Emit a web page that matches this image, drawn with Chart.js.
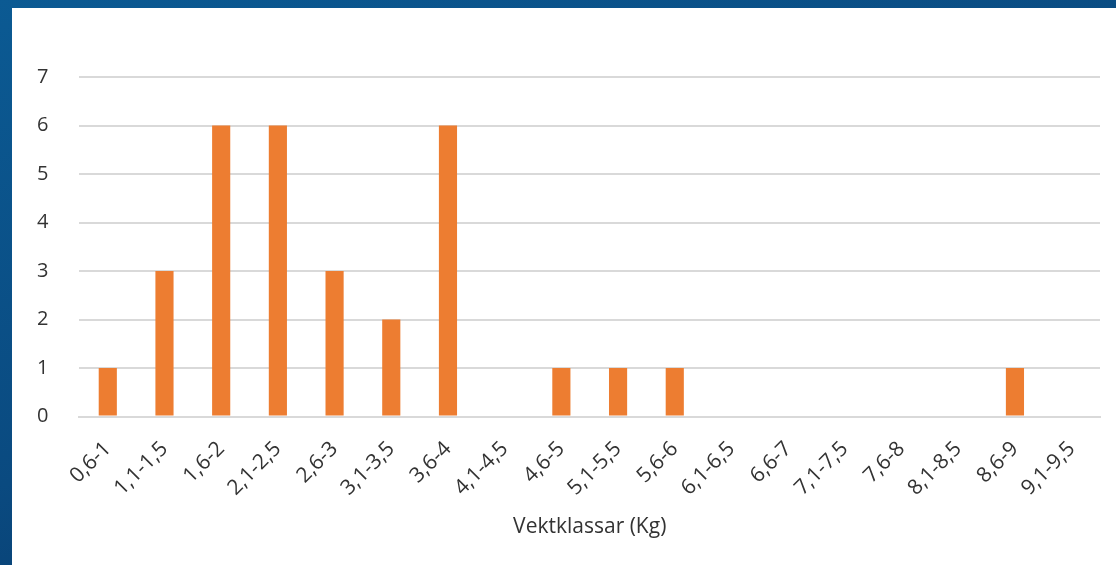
<!DOCTYPE html>
<html>
<head>
<meta charset="utf-8">
<script src="https://cdn.jsdelivr.net/npm/chart.js@4"></script>
<style>
  html, body { margin: 0; padding: 0; }
  body {
    width: 1116px; height: 565px; overflow: hidden;
    background: linear-gradient(160deg, #0b5a93 0%, #0a4a80 50%, #06305f 100%);
    position: relative;
  }
  #panel {
    position: absolute; left: 12px; top: 8px; right: 0; bottom: 0;
    background: #ffffff;
  }
</style>
</head>
<body>
<div id="panel"><canvas id="myChart"></canvas></div>
<script>
const labels = ["0,6-1", "1,1-1,5", "1,6-2", "2,1-2,5", "2,6-3", "3,1-3,5", "3,6-4", "4,1-4,5", "4,6-5",
    "5,1-5,5", "5,6-6", "6,1-6,5", "6,6-7", "7,1-7,5", "7,6-8", "8,1-8,5", "8,6-9", "9,1-9,5"];
const counts = [1, 3, 6, 6, 3, 2, 6, 0, 1, 1, 1, 0, 0, 0, 0, 0, 1, 0];
const yTicks = [0, 1, 2, 3, 4, 5, 6, 7];
const xTitle = "Vektklassar (Kg)";

Chart.defaults.font.family = "'Open Sans', sans-serif";
Chart.defaults.color = "#333333";

const CHART = document.getElementById("myChart");
var myChart = new Chart(CHART, {
    type: 'bar',
    data: {
        labels: labels,
        datasets: [{
            data: counts,
            backgroundColor: "#ED7D31",
            barPercentage: 0.32,
            categoryPercentage: 1
        }]
    },
    options: {
        responsive: true,
        maintainAspectRatio: false,
        animation: false,
        layout: { padding: { left: -6, right: 16, top: 69, bottom: 21 } },
        plugins: {
            legend: { display: false },
            tooltip: { enabled: false }
        },
        scales: {
            x: {
                grid: { display: false },
                border: { color: "#d9d9d9", width: 2 },
                ticks: { minRotation: 45, maxRotation: 45, font: { size: 21 }, padding: 12 },
                title: { display: true, text: xTitle, font: { size: 21 }, padding: { top: 2 } }
            },
            y: {
                min: 0,
                max: 7,
                afterBuildTicks: (axis) => { axis.ticks = yTicks.map(v => ({ value: v })); },
                grid: { color: "#d9d9d9", lineWidth: 2, drawTicks: false },
                border: { display: false },
                ticks: { font: { size: 20 }, padding: 31 }
            }
        }
    }
});
</script>
</body>
</html>
